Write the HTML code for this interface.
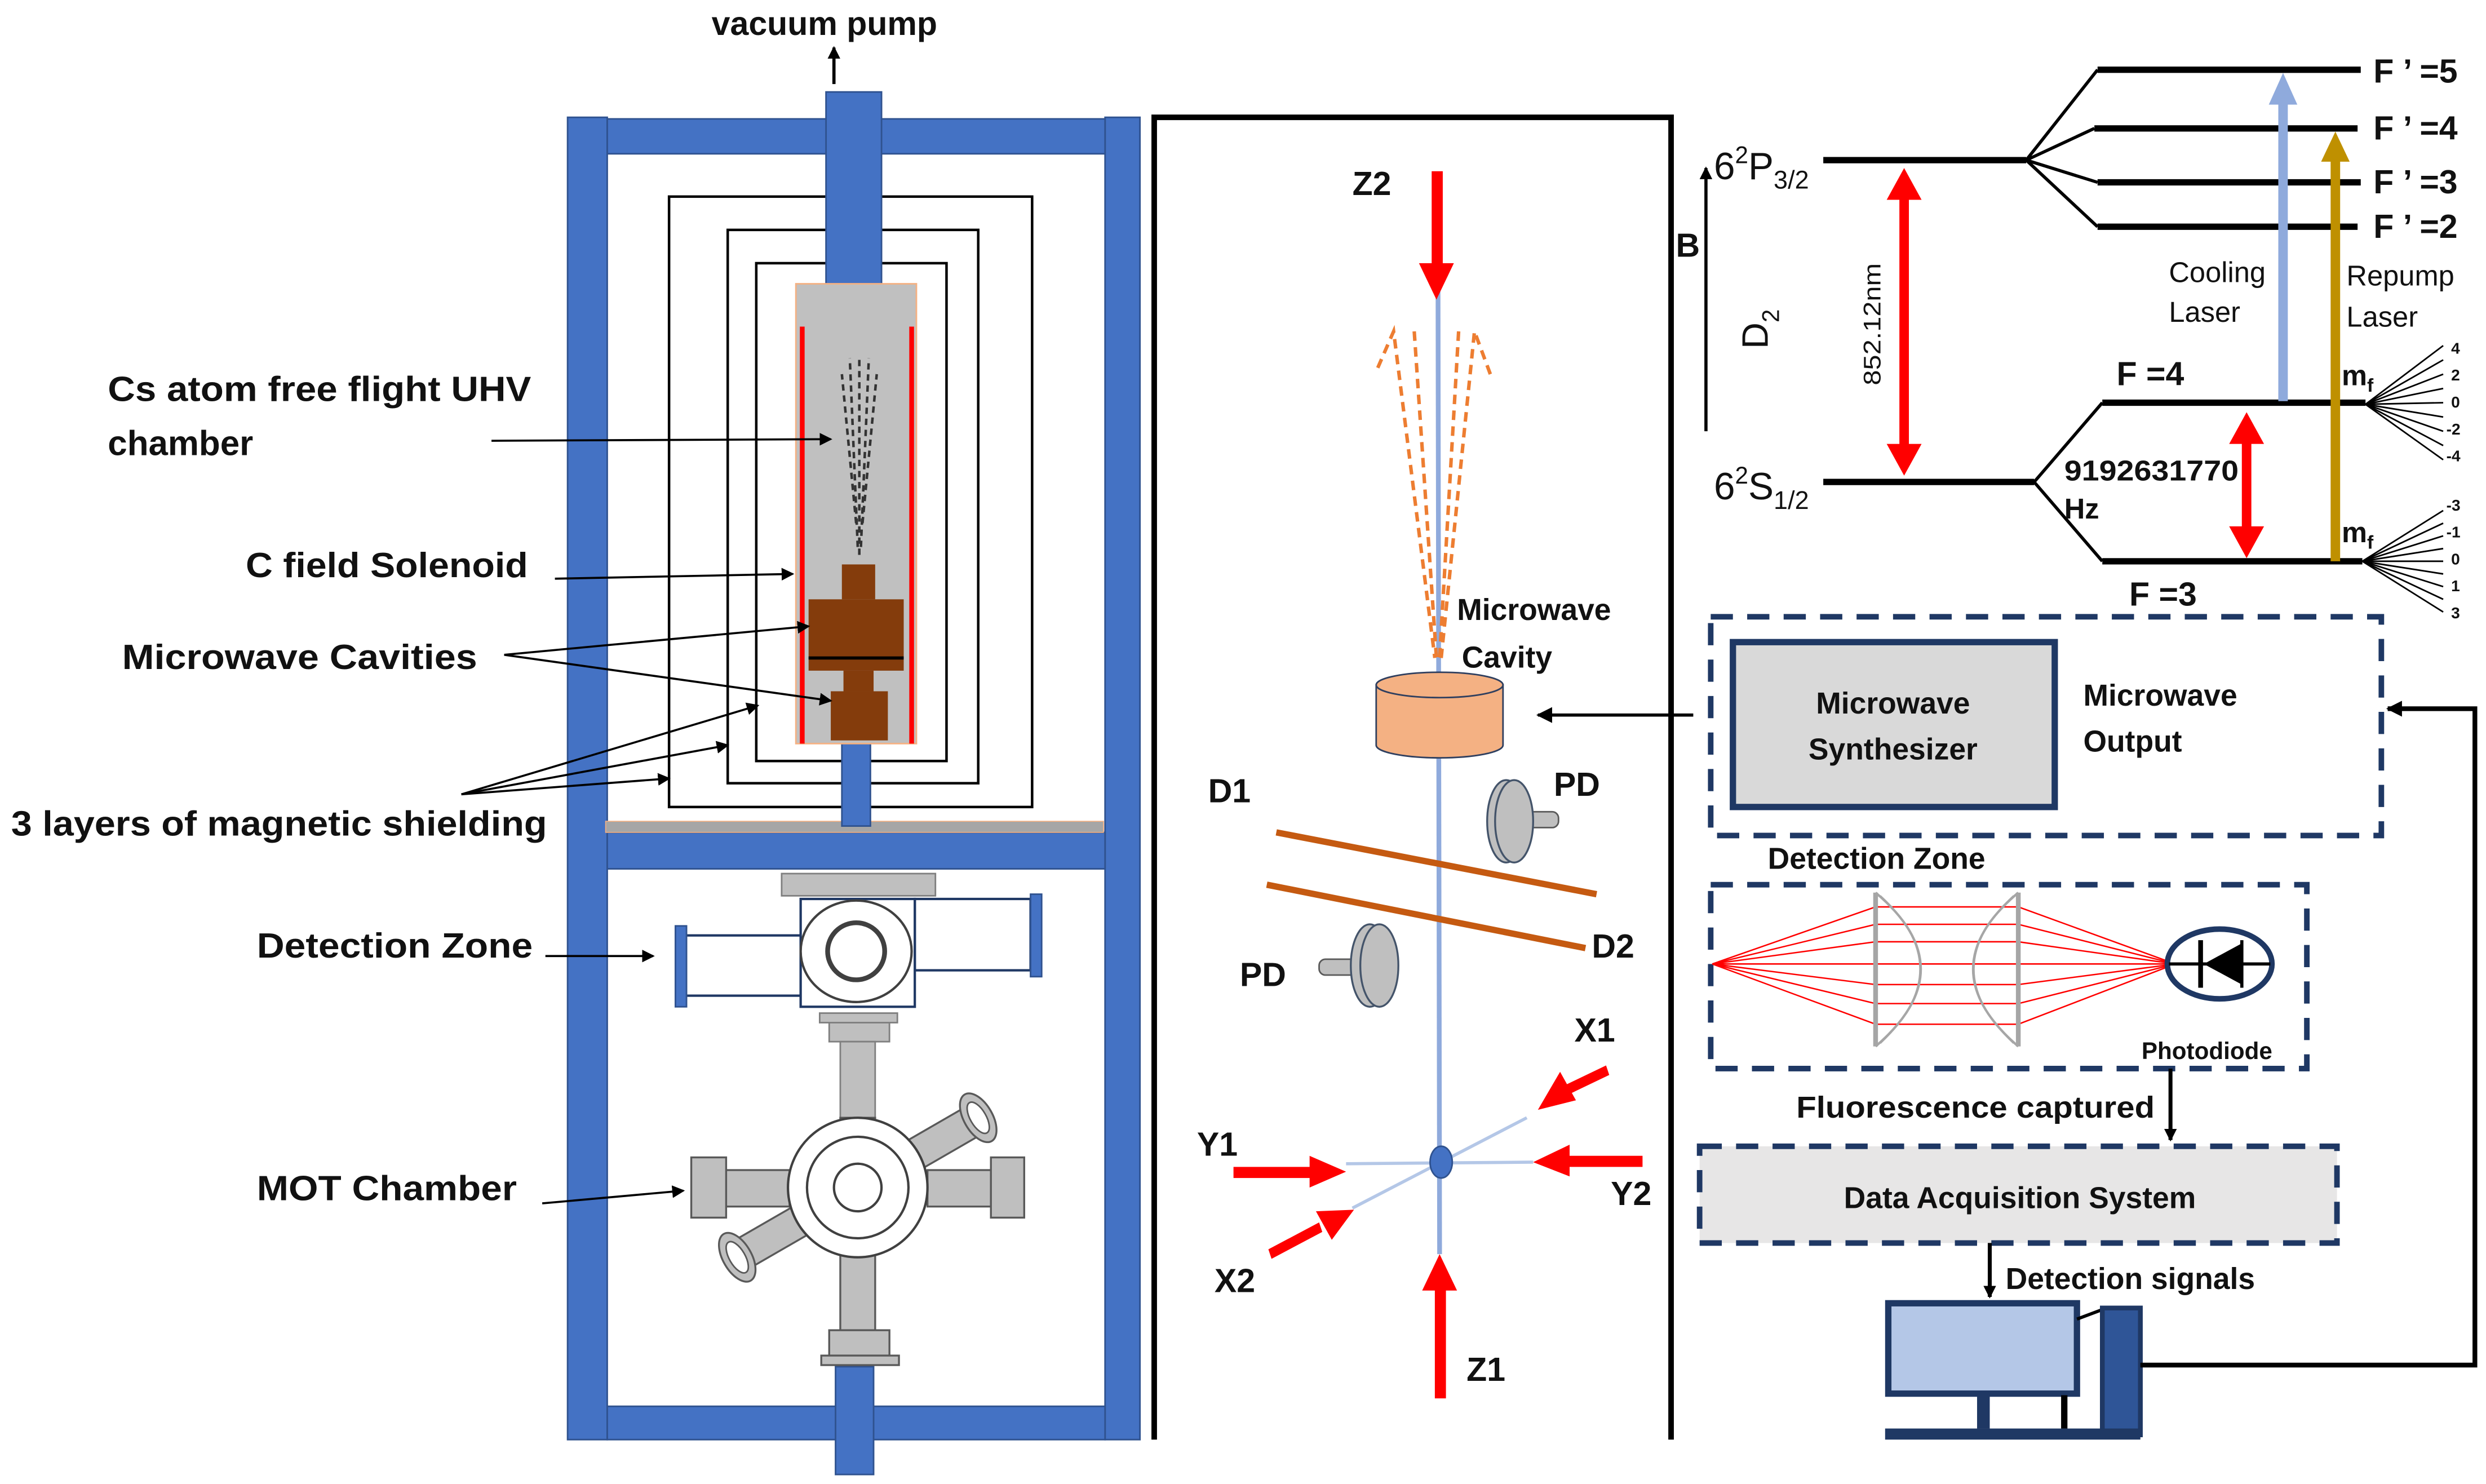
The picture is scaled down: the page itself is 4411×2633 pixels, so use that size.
<!DOCTYPE html>
<html><head><meta charset="utf-8"><style>
html,body{margin:0;padding:0;background:#fff;}
svg{display:block;}
text{font-family:"Liberation Sans",sans-serif;font-weight:bold;fill:#111;}
</style></head><body>
<svg width="4411" height="2633" viewBox="0 0 1568 936" preserveAspectRatio="none" xmlns="http://www.w3.org/2000/svg">
<defs>
<marker id="ah" markerWidth="8" markerHeight="8" refX="7" refY="4" orient="auto" markerUnits="userSpaceOnUse"><path d="M0,0 L8,4 L0,8 Z" fill="#000"/></marker>
<marker id="ah2" markerWidth="10" markerHeight="10" refX="9" refY="5" orient="auto" markerUnits="userSpaceOnUse"><path d="M0,0 L10,5 L0,10 Z" fill="#000"/></marker>
</defs>

<text x="520" y="22" font-size="21" text-anchor="middle">vacuum pump</text>
<line x1="526" y1="53" x2="526" y2="30" stroke="#000" stroke-width="2" marker-end="url(#ah)"/>

<rect x="422" y="124" width="229" height="385" fill="none" stroke="#000" stroke-width="1.6"/>
<rect x="459" y="145" width="158" height="349" fill="none" stroke="#000" stroke-width="1.6"/>
<rect x="477" y="166" width="120" height="314" fill="none" stroke="#000" stroke-width="1.6"/>

<rect x="358" y="74" width="25" height="834" fill="#4472c4" stroke="#2f528f" stroke-width="1"/>
<rect x="697" y="74" width="22" height="834" fill="#4472c4" stroke="#2f528f" stroke-width="1"/>
<rect x="383" y="75" width="314" height="22" fill="#4472c4" stroke="#2f528f" stroke-width="1"/>
<rect x="383" y="525" width="314" height="23" fill="#4472c4" stroke="#2f528f" stroke-width="1"/>
<rect x="383" y="887" width="314" height="21" fill="#4472c4" stroke="#2f528f" stroke-width="1"/>
<rect x="382" y="518" width="314" height="7" fill="#a6a6a6" stroke="#f4b183" stroke-width="0.6"/>

<rect x="521" y="58" width="35" height="122" fill="#4472c4" stroke="#2f528f"/>
<rect x="531" y="469" width="18" height="52" fill="#4472c4" stroke="#2f528f"/>
<rect x="527" y="862" width="24" height="68" fill="#4472c4" stroke="#2f528f"/>

<rect x="502" y="179" width="76" height="290" fill="#c0c0c0" stroke="#f4b183" stroke-width="1"/>
<line x1="506" y1="206" x2="506" y2="469" stroke="#ff0000" stroke-width="3"/>
<line x1="575" y1="206" x2="575" y2="469" stroke="#ff0000" stroke-width="3"/>
<g stroke="#333" stroke-width="1.6" stroke-dasharray="4,3" fill="none">
<line x1="542" y1="350" x2="542" y2="224"/>
<line x1="541" y1="345" x2="536" y2="226"/>
<line x1="543" y1="345" x2="548" y2="226"/>
<line x1="540" y1="330" x2="531" y2="236"/>
<line x1="544" y1="330" x2="553" y2="236"/>
</g>
<rect x="531" y="356" width="21" height="22" fill="#843c0c"/>
<rect x="510" y="378" width="60" height="45" fill="#843c0c"/>
<line x1="510" y1="415" x2="570" y2="415" stroke="#000" stroke-width="2"/>
<rect x="532" y="423" width="19" height="13" fill="#843c0c"/>
<rect x="524" y="436" width="36" height="31" fill="#843c0c"/>

<text x="68" y="253" font-size="22" textLength="267" lengthAdjust="spacingAndGlyphs">Cs atom free flight UHV</text>
<text x="68" y="287" font-size="22">chamber</text>
<line x1="310" y1="278" x2="524" y2="277" stroke="#000" stroke-width="1.3" marker-end="url(#ah)"/>
<text x="155" y="364" font-size="22" textLength="178" lengthAdjust="spacingAndGlyphs">C field Solenoid</text>
<line x1="350" y1="365" x2="500" y2="362" stroke="#000" stroke-width="1.3" marker-end="url(#ah)"/>
<text x="77" y="422" font-size="22" textLength="224" lengthAdjust="spacingAndGlyphs">Microwave Cavities</text>
<line x1="318" y1="413" x2="510" y2="395" stroke="#000" stroke-width="1.3" marker-end="url(#ah)"/>
<line x1="318" y1="413" x2="524" y2="442" stroke="#000" stroke-width="1.3" marker-end="url(#ah)"/>
<text x="7" y="527" font-size="22" textLength="338" lengthAdjust="spacingAndGlyphs">3 layers of magnetic shielding</text>
<line x1="291" y1="501" x2="478" y2="445" stroke="#000" stroke-width="1.3" marker-end="url(#ah)"/>
<line x1="291" y1="501" x2="459" y2="470" stroke="#000" stroke-width="1.3" marker-end="url(#ah)"/>
<line x1="291" y1="501" x2="422" y2="491" stroke="#000" stroke-width="1.3" marker-end="url(#ah)"/>
<text x="162" y="604" font-size="22" textLength="174" lengthAdjust="spacingAndGlyphs">Detection Zone</text>
<line x1="344" y1="603" x2="412" y2="603" stroke="#000" stroke-width="1.3" marker-end="url(#ah)"/>
<text x="162" y="757" font-size="22" textLength="164" lengthAdjust="spacingAndGlyphs">MOT Chamber</text>
<line x1="342" y1="759" x2="431" y2="751" stroke="#000" stroke-width="1.3" marker-end="url(#ah)"/>

<rect x="493" y="551" width="97" height="14" fill="#bfbfbf" stroke="#7f7f7f"/>
<rect x="432" y="590" width="73" height="38" fill="#fff" stroke="#1f3864" stroke-width="1.5"/>
<rect x="426" y="584" width="7" height="51" fill="#4472c4" stroke="#2f528f"/>
<rect x="577" y="567" width="73" height="45" fill="#fff" stroke="#1f3864" stroke-width="1.5"/>
<rect x="650" y="564" width="7" height="52" fill="#4472c4" stroke="#2f528f"/>
<rect x="505" y="567" width="72" height="68" fill="#fff" stroke="#1f3864" stroke-width="1.5"/>
<ellipse cx="540" cy="600" rx="35" ry="32" fill="#fff" stroke="#404040" stroke-width="1.5"/>
<circle cx="540" cy="600" r="18" fill="#fff" stroke="#404040" stroke-width="3"/>
<rect x="517" y="639" width="49" height="6" fill="#bfbfbf" stroke="#7f7f7f"/>
<rect x="523" y="645" width="38" height="12" fill="#bfbfbf" stroke="#7f7f7f"/>
<rect x="530" y="657" width="22" height="48" fill="#bfbfbf" stroke="#7f7f7f"/>

<g fill="#bfbfbf" stroke="#595959" stroke-width="1.2">
<rect x="575" y="739" width="50" height="20" transform="rotate(-30 541 749)"/>
<rect x="457" y="739" width="50" height="20" transform="rotate(-30 541 749)"/>
<rect x="457" y="738" width="41" height="23"/>
<rect x="436" y="730" width="22" height="38"/>
<rect x="585" y="738" width="40" height="23"/>
<rect x="625" y="730" width="21" height="38"/>
<rect x="530" y="787" width="22" height="52"/>
<rect x="523" y="839" width="38" height="16"/>
<rect x="518" y="855" width="49" height="6"/>
<rect x="530" y="705" width="22" height="10"/>
<ellipse cx="617" cy="705" rx="9" ry="17" transform="rotate(-30 617 705)"/>
<ellipse cx="465" cy="793" rx="9" ry="17" transform="rotate(-30 465 793)"/>
</g>
<ellipse cx="617" cy="705" rx="5" ry="11" transform="rotate(-30 617 705)" fill="#fff" stroke="#595959"/>
<ellipse cx="465" cy="793" rx="5" ry="11" transform="rotate(-30 465 793)" fill="#fff" stroke="#595959"/>
<circle cx="541" cy="749" r="44" fill="#fff" stroke="#404040" stroke-width="1.5"/>
<circle cx="541" cy="749" r="32" fill="#fff" stroke="#404040" stroke-width="1.5"/>
<circle cx="541" cy="749" r="15" fill="#fff" stroke="#404040" stroke-width="1.5"/>

<polyline points="728,908 728,74 1054,74 1054,908" fill="none" stroke="#000" stroke-width="3.5"/>
<line x1="907" y1="180" x2="908" y2="791" stroke="#8faadc" stroke-width="3"/>
<line x1="849" y1="734" x2="967" y2="733" stroke="#b4c7e7" stroke-width="2"/>
<line x1="853" y1="762" x2="963" y2="705" stroke="#b4c7e7" stroke-width="2"/>
<g stroke="#ed7d31" stroke-width="2.2" stroke-dasharray="6,4" fill="none">
<polyline points="869,232 879,209 905,415"/>
<line x1="892" y1="209" x2="906" y2="415"/>
<line x1="920" y1="209" x2="908" y2="415"/>
<polyline points="940,236 930,209 909,415"/>
</g>
<text x="919" y="391" font-size="19">Microwave</text>
<text x="922" y="421" font-size="19">Cavity</text>
<path d="M868,432 L868,470 A40,8 0 0 0 948,470 L948,432 Z" fill="#f4b183" stroke="#2f3f5f" stroke-width="1"/>
<ellipse cx="908" cy="432" rx="40" ry="8" fill="#f4b183" stroke="#2f3f5f" stroke-width="1"/>
<line x1="1068" y1="451" x2="970" y2="451" stroke="#000" stroke-width="2" marker-end="url(#ah2)"/>
<line x1="805" y1="525" x2="1007" y2="564" stroke="#c55a11" stroke-width="4"/>
<line x1="799" y1="558" x2="1000" y2="598" stroke="#c55a11" stroke-width="4"/>
<text x="762" y="506" font-size="21">D1</text>
<text x="1004" y="604" font-size="21">D2</text>
<rect x="955" y="512" width="28" height="10" rx="4" fill="#bfbfbf" stroke="#595959"/>
<ellipse cx="950" cy="518" rx="12" ry="26" fill="#bfbfbf" stroke="#44546a" stroke-width="1.2"/>
<ellipse cx="955" cy="518" rx="12" ry="26" fill="#bfbfbf" stroke="#44546a" stroke-width="1.2"/>
<text x="980" y="502" font-size="21">PD</text>
<rect x="832" y="605" width="32" height="10" rx="4" fill="#bfbfbf" stroke="#595959"/>
<ellipse cx="864" cy="609" rx="12" ry="26" fill="#bfbfbf" stroke="#44546a" stroke-width="1.2"/>
<ellipse cx="870" cy="609" rx="12" ry="26" fill="#bfbfbf" stroke="#44546a" stroke-width="1.2"/>
<text x="782" y="622" font-size="21">PD</text>
<ellipse cx="909" cy="733" rx="7" ry="10" fill="#4472c4" stroke="#2f528f"/>
<g fill="#ff0000">
<rect x="903" y="108" width="7" height="60"/>
<polygon points="895,166 917,166 906,189"/>
<rect x="905" y="812" width="7" height="70"/>
<polygon points="897,814 919,814 908,791"/>
<rect x="778" y="736" width="50" height="7"/>
<polygon points="826,729 826,749 849,739"/>
<rect x="988" y="729" width="48" height="7"/>
<polygon points="990,722 990,742 967,733"/>
<polygon points="1013,672 1015,678 990,690 988,684"/>
<polygon points="984,676 994,694 970,700"/>
<polygon points="800,788 802,794 834,777 832,771"/>
<polygon points="830,764 840,782 854,763"/>
</g>
<text x="853" y="123" font-size="21">Z2</text>
<text x="925" y="871" font-size="21">Z1</text>
<text x="755" y="729" font-size="21">Y1</text>
<text x="1016" y="760" font-size="21">Y2</text>
<text x="993" y="657" font-size="21">X1</text>
<text x="766" y="815" font-size="21">X2</text>

<g stroke="#000" stroke-width="4">
<line x1="1150" y1="101" x2="1278" y2="101"/>
<line x1="1150" y1="304" x2="1283" y2="304"/>
<line x1="1323" y1="44" x2="1489" y2="44"/>
<line x1="1321" y1="81" x2="1487" y2="81"/>
<line x1="1323" y1="115" x2="1489" y2="115"/>
<line x1="1323" y1="143" x2="1487" y2="143"/>
<line x1="1326" y1="254" x2="1492" y2="254"/>
<line x1="1326" y1="354" x2="1490" y2="354"/>
</g>
<g stroke="#000" stroke-width="2" fill="none">
<line x1="1278" y1="101" x2="1323" y2="44"/>
<line x1="1278" y1="101" x2="1321" y2="81"/>
<line x1="1278" y1="101" x2="1323" y2="115"/>
<line x1="1278" y1="101" x2="1323" y2="143"/>
<line x1="1283" y1="304" x2="1326" y2="254"/>
<line x1="1283" y1="304" x2="1326" y2="354"/>
</g>
<g font-size="21">
<text x="1497" y="52">F ’ =5</text>
<text x="1497" y="88">F ’ =4</text>
<text x="1497" y="122">F ’ =3</text>
<text x="1497" y="150">F ’ =2</text>
<text x="1335" y="243">F =4</text>
<text x="1343" y="382">F =3</text>
</g>
<line x1="1076" y1="272" x2="1076" y2="106" stroke="#000" stroke-width="2" marker-end="url(#ah)"/>
<text x="1057" y="162" font-size="21">B</text>
<text x="1081" y="113" font-size="24" style="font-weight:normal">6<tspan font-size="15" dy="-10">2</tspan><tspan dy="10">P</tspan><tspan font-size="16" dy="6">3/2</tspan></text>
<text x="1081" y="315" font-size="24" style="font-weight:normal">6<tspan font-size="15" dy="-10">2</tspan><tspan dy="10">S</tspan><tspan font-size="16" dy="6">1/2</tspan></text>
<text transform="translate(1115,220) rotate(-90)" font-size="23" style="font-weight:normal">D<tspan font-size="15" dy="7">2</tspan></text>
<text transform="translate(1186,243) rotate(-90)" font-size="15" style="font-weight:normal" textLength="77" lengthAdjust="spacingAndGlyphs">852.12nm</text>
<g fill="#ff0000">
<rect x="1198" y="122" width="6" height="162"/>
<polygon points="1190,126 1212,126 1201,106"/>
<polygon points="1190,280 1212,280 1201,300"/>
<rect x="1414" y="276" width="6" height="60"/>
<polygon points="1406,280 1428,280 1417,260"/>
<polygon points="1406,332 1428,332 1417,352"/>
</g>
<text x="1302" y="303" font-size="18" textLength="110" lengthAdjust="spacingAndGlyphs">9192631770</text>
<text x="1302" y="327" font-size="18">Hz</text>
<rect x="1437" y="62" width="6" height="191" fill="#8faadc"/>
<polygon points="1431,66 1449,66 1440,46" fill="#8faadc"/>
<rect x="1470" y="100" width="6" height="254" fill="#bf9000"/>
<polygon points="1464,102 1482,102 1473,83" fill="#bf9000"/>
<text x="1368" y="178" font-size="18" style="font-weight:normal">Cooling</text>
<text x="1368" y="203" font-size="18" style="font-weight:normal">Laser</text>
<text x="1480" y="180" font-size="18" style="font-weight:normal">Repump</text>
<text x="1480" y="206" font-size="18" style="font-weight:normal">Laser</text>
<g stroke="#000" stroke-width="1">
<line x1="1492" y1="255" x2="1541" y2="218"/>
<line x1="1492" y1="255" x2="1541" y2="227"/>
<line x1="1492" y1="255" x2="1541" y2="236"/>
<line x1="1492" y1="255" x2="1541" y2="245"/>
<line x1="1492" y1="255" x2="1541" y2="254"/>
<line x1="1492" y1="255" x2="1541" y2="263"/>
<line x1="1492" y1="255" x2="1541" y2="272"/>
<line x1="1492" y1="255" x2="1541" y2="281"/>
<line x1="1492" y1="255" x2="1541" y2="290"/>
<line x1="1490" y1="354" x2="1541" y2="322"/>
<line x1="1490" y1="354" x2="1541" y2="330"/>
<line x1="1490" y1="354" x2="1541" y2="338"/>
<line x1="1490" y1="354" x2="1541" y2="346"/>
<line x1="1490" y1="354" x2="1541" y2="354"/>
<line x1="1490" y1="354" x2="1541" y2="362"/>
<line x1="1490" y1="354" x2="1541" y2="370"/>
<line x1="1490" y1="354" x2="1541" y2="378"/>
<line x1="1490" y1="354" x2="1541" y2="386"/>
</g>
<g font-size="10" style="font-weight:normal">
<text x="1546" y="223">4</text><text x="1546" y="240">2</text><text x="1546" y="257">0</text><text x="1543" y="274">-2</text><text x="1543" y="291">-4</text>
<text x="1543" y="322">-3</text><text x="1543" y="339">-1</text><text x="1546" y="356">0</text><text x="1546" y="373">1</text><text x="1546" y="390">3</text>
</g>
<text x="1477" y="243" font-size="18">m<tspan font-size="12" dy="4">f</tspan></text>
<text x="1477" y="342" font-size="18">m<tspan font-size="12" dy="4">f</tspan></text>

<rect x="1079" y="389" width="423" height="138" fill="none" stroke="#1f3864" stroke-width="3.5" stroke-dasharray="14,9"/>
<rect x="1093" y="405" width="203" height="104" fill="#d9d9d9" stroke="#1f3864" stroke-width="4"/>
<text x="1194" y="450" font-size="19" text-anchor="middle">Microwave</text>
<text x="1194" y="479" font-size="19" text-anchor="middle">Synthesizer</text>
<text x="1314" y="445" font-size="19">Microwave</text>
<text x="1314" y="474" font-size="19">Output</text>

<text x="1115" y="548" font-size="19">Detection Zone</text>
<rect x="1079" y="558" width="376" height="116" fill="none" stroke="#1f3864" stroke-width="3.5" stroke-dasharray="14,9"/>
<g stroke="#ff0000" stroke-width="0.9" fill="none">
<polyline points="1080,608 1183,572 1273,572 1372,608"/>
<polyline points="1080,608 1183,583 1273,583 1372,608"/>
<polyline points="1080,608 1183,594 1273,594 1372,608"/>
<polyline points="1080,608 1183,608 1273,608 1372,608"/>
<polyline points="1080,608 1183,621 1273,621 1372,608"/>
<polyline points="1080,608 1183,633 1273,633 1372,608"/>
<polyline points="1080,608 1183,646 1273,646 1372,608"/>
</g>
<g fill="none" stroke="#a6a6a6">
<line x1="1183" y1="563" x2="1183" y2="660" stroke-width="3"/>
<path d="M1183,563 Q1240,611 1183,660" stroke-width="1.5"/>
<path d="M1186,565 Q1236,611 1186,658" stroke-width="1"/>
<line x1="1273" y1="563" x2="1273" y2="660" stroke-width="3"/>
<path d="M1273,563 Q1216,611 1273,660" stroke-width="1.5"/>
<path d="M1270,565 Q1220,611 1270,658" stroke-width="1"/>
</g>
<ellipse cx="1400" cy="608" rx="33" ry="22" fill="#fff" stroke="#1f3864" stroke-width="3.5"/>
<line x1="1368" y1="608" x2="1432" y2="608" stroke="#000" stroke-width="2"/>
<line x1="1388" y1="593" x2="1388" y2="623" stroke="#000" stroke-width="3"/>
<polygon points="1390,608 1414,595 1414,621" fill="#000"/>
<line x1="1414" y1="593" x2="1414" y2="623" stroke="#000" stroke-width="2"/>
<text x="1392" y="668" font-size="15" text-anchor="middle">Photodiode</text>

<line x1="1369" y1="674" x2="1369" y2="719" stroke="#000" stroke-width="2.5" marker-end="url(#ah)"/>
<text x="1133" y="705" font-size="19" textLength="226" lengthAdjust="spacingAndGlyphs">Fluorescence captured</text>

<rect x="1072" y="723" width="402" height="61" fill="#e7e6e6" stroke="#1f3864" stroke-width="3.5" stroke-dasharray="14,9"/>
<text x="1274" y="762" font-size="19" text-anchor="middle">Data Acquisition System</text>

<line x1="1255" y1="784" x2="1255" y2="818" stroke="#000" stroke-width="2.5" marker-end="url(#ah)"/>
<text x="1265" y="813" font-size="19">Detection signals</text>

<rect x="1191" y="822" width="119" height="57" fill="#b4c7e7" stroke="#1f3864" stroke-width="4"/>
<rect x="1247" y="880" width="8" height="21" fill="#1f3864"/>
<rect x="1300" y="880" width="4" height="21" fill="#000"/>
<line x1="1310" y1="832" x2="1326" y2="826" stroke="#000" stroke-width="2"/>
<rect x="1326" y="825" width="24" height="80" fill="#2f5597" stroke="#1f3864" stroke-width="3"/>
<rect x="1189" y="901" width="161" height="7" fill="#1f3864"/>
<polyline points="1350,861 1561,861 1561,447 1506,447" fill="none" stroke="#000" stroke-width="3" marker-end="url(#ah2)"/>
</svg>
</body></html>
